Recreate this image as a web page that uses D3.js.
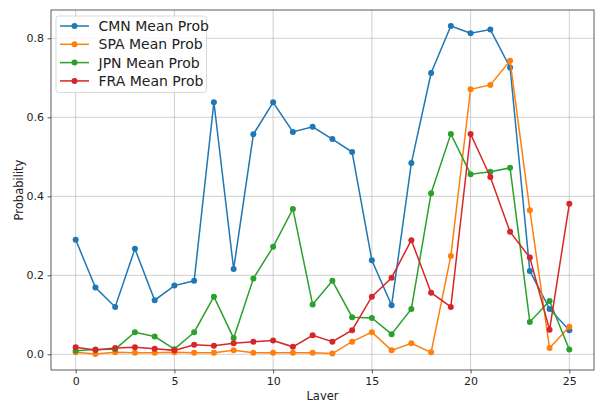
<!DOCTYPE html>
<html>
<head>
<meta charset="utf-8">
<script src="https://cdn.jsdelivr.net/npm/d3@7"></script>
<style>
  body { margin: 0; background: #fff; }
  svg text { font-family: "DejaVu Sans", sans-serif; fill: #222; }
</style>
</head>
<body>
<div id="chart"></div>
<script>
// line chart - mean probability per layer for four languages

const layers = d3.range(0, 26);
const cmn = [0.290, 0.169, 0.120, 0.267, 0.137, 0.174, 0.186, 0.638, 0.216, 0.557,
             0.638, 0.563, 0.576, 0.545, 0.512, 0.238, 0.124, 0.484, 0.712, 0.831,
             0.813, 0.822, 0.726, 0.211, 0.115, 0.061];
const spa = [0.005, 0.001, 0.005, 0.004, 0.004, 0.005, 0.004, 0.004, 0.010, 0.004,
             0.004, 0.004, 0.004, 0.002, 0.032, 0.056, 0.010, 0.028, 0.005, 0.249,
             0.671, 0.682, 0.743, 0.365, 0.016, 0.070];
const jpn = [0.009, 0.012, 0.013, 0.056, 0.045, 0.013, 0.056, 0.146, 0.041, 0.192,
             0.272, 0.368, 0.126, 0.186, 0.094, 0.092, 0.051, 0.115, 0.408, 0.558,
             0.456, 0.462, 0.472, 0.082, 0.135, 0.012];
const fra = [0.018, 0.011, 0.016, 0.018, 0.014, 0.010, 0.024, 0.022, 0.028, 0.032,
             0.035, 0.019, 0.048, 0.032, 0.061, 0.146, 0.194, 0.289, 0.156, 0.120,
             0.558, 0.449, 0.310, 0.245, 0.062, 0.381];
const xTicks = [0, 5, 10, 15, 20, 25];
const yTicks = [0.0, 0.2, 0.4, 0.6, 0.8];

const series = [
    { name: "CMN Mean Prob", values: cmn, color: "#1f77b4" },
    { name: "SPA Mean Prob", values: spa, color: "#ff7f0e" },
    { name: "JPN Mean Prob", values: jpn, color: "#2ca02c" },
    { name: "FRA Mean Prob", values: fra, color: "#d62728" }
];

const svgWidth = 595;
const svgHeight = 400;
const margin = { top: 10, right: 1, bottom: 30, left: 51 };
const width = svgWidth - margin.left - margin.right;
const height = svgHeight - margin.top - margin.bottom;

const svg = d3.select("#chart")
    .append("svg")
    .attr("width", svgWidth)
    .attr("height", svgHeight);

const chart = svg.append("g")
    .attr("transform", `translate(${margin.left},${margin.top})`);

const scaleX = d3.scaleLinear()
    .domain([-1.25, 26.25])
    .range([0, width]);

const scaleY = d3.scaleLinear()
    .domain([-0.0397, 0.8716])
    .range([height, 0]);

// grid
chart.append("g")
    .selectAll("line")
    .data(xTicks)
    .enter()
    .append("line")
    .attr("x1", d => scaleX(d)).attr("x2", d => scaleX(d))
    .attr("y1", 0).attr("y2", height)
    .attr("stroke", "#b0b0b0").attr("stroke-opacity", 0.6).attr("stroke-width", 1);

chart.append("g")
    .selectAll("line")
    .data(yTicks)
    .enter()
    .append("line")
    .attr("x1", 0).attr("x2", width)
    .attr("y1", d => scaleY(d)).attr("y2", d => scaleY(d))
    .attr("stroke", "#b0b0b0").attr("stroke-opacity", 0.6).attr("stroke-width", 1);

// axes
const xAxis = chart.append("g")
    .attr("transform", `translate(0,${height})`)
    .call(d3.axisBottom(scaleX).tickValues(xTicks).tickSize(3.5).tickPadding(3.5).tickFormat(d3.format("d")));

const yAxis = chart.append("g")
    .call(d3.axisLeft(scaleY).tickValues(yTicks).tickSize(3.5).tickPadding(3.5).tickFormat(d3.format(".1f")));

[xAxis, yAxis].forEach(function(ax) {
    ax.select(".domain").remove();
    ax.selectAll("line").attr("stroke", "#333").attr("stroke-width", 0.8);
    ax.selectAll("text")
        .attr("font-family", "DejaVu Sans, sans-serif")
        .attr("font-size", "11px")
        .attr("fill", "#222");
});

chart.append("rect")
    .attr("width", width)
    .attr("height", height)
    .attr("fill", "none")
    .attr("stroke", "#333")
    .attr("stroke-width", 0.8);

chart.append("text")
    .attr("x", width / 2)
    .attr("y", height + 30)
    .attr("text-anchor", "middle")
    .attr("font-size", "11.5px")
    .text("Layer");

chart.append("text")
    .attr("transform", "rotate(-90)")
    .attr("x", -(height / 2))
    .attr("y", -28.5)
    .attr("text-anchor", "middle")
    .attr("font-size", "11.5px")
    .text("Probability");

// lines and markers
const line = d3.line()
    .x((d, i) => scaleX(layers[i]))
    .y(d => scaleY(d));

series.forEach(function(s) {
    const g = chart.append("g");
    g.append("path")
        .datum(s.values)
        .attr("d", line)
        .attr("fill", "none")
        .attr("stroke", s.color)
        .attr("stroke-width", 1.5);
    g.selectAll("circle")
        .data(s.values)
        .enter()
        .append("circle")
        .attr("cx", (d, i) => scaleX(layers[i]))
        .attr("cy", d => scaleY(d))
        .attr("r", 3)
        .attr("fill", s.color);
});

// legend
const legend = svg.append("g")
    .attr("transform", "translate(56,16)");

legend.append("rect")
    .attr("width", 150.5)
    .attr("height", 76.5)
    .attr("rx", 3)
    .attr("fill", "#fff")
    .attr("fill-opacity", 0.8)
    .attr("stroke", "#d9d9d9")
    .attr("stroke-width", 1);

const item = legend.selectAll("g.item")
    .data(series)
    .enter()
    .append("g")
    .attr("class", "item")
    .attr("transform", (d, i) => `translate(0,${10 + i * 18.3})`);

item.append("line")
    .attr("x1", 4).attr("x2", 33)
    .attr("stroke", d => d.color)
    .attr("stroke-width", 1.5);

item.append("circle")
    .attr("cx", 18.5)
    .attr("r", 3)
    .attr("fill", d => d.color);

item.append("text")
    .attr("x", 42.5)
    .attr("dy", "0.36em")
    .attr("font-size", "14px")
    .text(d => d.name);
</script>
</body>
</html>
